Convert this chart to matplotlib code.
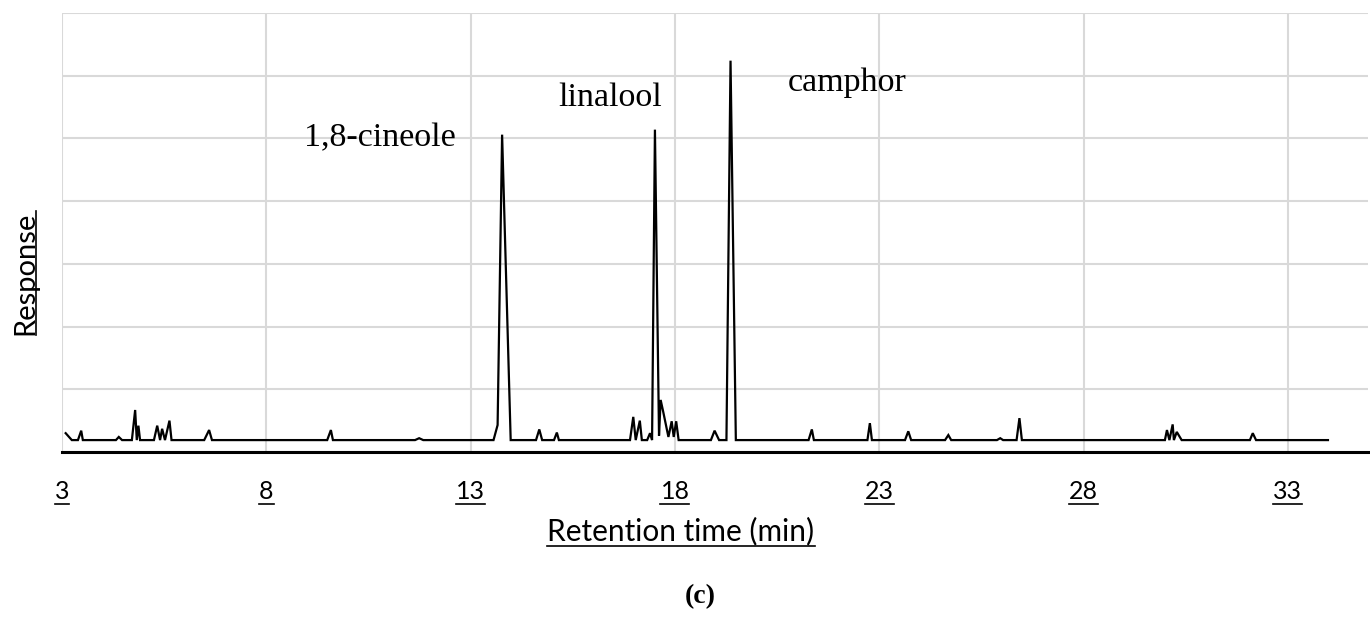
import matplotlib
matplotlib.use("Agg")
import matplotlib.pyplot as plt
from matplotlib.lines import Line2D
from matplotlib.transforms import blended_transform_factory

# retention time (min) and detector response (arbitrary units)
rt = [3.09, 3.24, 3.39, 3.47, 3.51, 4.32, 4.39, 4.47, 4.71, 4.79, 4.83, 4.87, 4.91,
      5.25, 5.33, 5.40, 5.45, 5.52, 5.63, 5.68, 6.48, 6.60, 6.67, 9.49, 9.58, 9.63,
      11.64, 11.74, 11.84, 13.56, 13.66, 13.77, 13.98, 14.60, 14.68, 14.75, 15.04,
      15.11, 15.16, 16.90, 16.98, 17.04, 17.14, 17.19, 17.32, 17.39, 17.44, 17.51,
      17.61, 17.65, 17.71, 17.84, 17.92, 17.97, 18.03, 18.09, 18.88, 18.97, 19.08,
      19.26, 19.36, 19.49, 21.27, 21.35, 21.40, 22.71, 22.77, 22.82, 23.63, 23.71,
      23.78, 24.61, 24.69, 24.76, 25.88, 25.96, 26.03, 26.36, 26.43, 26.49, 29.99,
      30.04, 30.10, 30.18, 30.21, 30.28, 30.40, 32.07, 32.14, 32.22, 33.98]
response = [0.30, 0.19, 0.19, 0.34, 0.19, 0.19, 0.24, 0.19, 0.19, 0.67, 0.19, 0.42, 0.19,
            0.19, 0.42, 0.19, 0.37, 0.19, 0.50, 0.19, 0.19, 0.35, 0.19, 0.19, 0.35, 0.19,
            0.19, 0.22, 0.19, 0.19, 0.43, 5.06, 0.19, 0.19, 0.36, 0.19, 0.19,
            0.31, 0.19, 0.19, 0.56, 0.19, 0.50, 0.19, 0.19, 0.30, 0.19, 5.14,
            0.26, 0.83, 0.65, 0.24, 0.49, 0.24, 0.49, 0.19, 0.19, 0.34, 0.19,
            0.19, 6.24, 0.19, 0.19, 0.36, 0.19, 0.19, 0.46, 0.19, 0.19, 0.33,
            0.19, 0.19, 0.27, 0.19, 0.19, 0.22, 0.19, 0.19, 0.54, 0.19, 0.19,
            0.35, 0.19, 0.44, 0.19, 0.32, 0.19, 0.19, 0.30, 0.19, 0.19]

xticks = [3, 8, 13, 18, 23, 28, 33]
compounds = ["1,8-cineole", "linalool", "camphor"]
label_pos = [(8.92, 4.87), (15.14, 5.52), (20.77, 5.75)]

sans = "Lato"
serif = "Liberation Serif"
W, H = 1370, 617

fig = plt.figure(figsize=(13.7, 6.17), dpi=100)
ax = fig.add_axes([62 / W, 165 / H, 1306 / W, 439 / H])

ax.plot(rt, response, color="black", lw=1.6, solid_joinstyle="miter")

ax.set_xlim(3, 34.96)
ax.set_ylim(0, 7)
ax.set_xticks(xticks)
ax.set_yticks(range(0, 8))
ax.grid(True, color="#d9d9d9", lw=1.5)
ax.set_axisbelow(True)
ax.tick_params(length=0, labelleft=False, labelbottom=False)
for s in ["top", "right", "left"]:
    ax.spines[s].set_visible(False)
ax.spines["bottom"].set_linewidth(2.2)

for name, (x, y) in zip(compounds, label_pos):
    ax.text(x, y, name, family=serif, fontsize=24.5, va="baseline", ha="left")

# underlined labels, as in the source figure (positions in pixels from the top)
fig.canvas.draw()
r = fig.canvas.get_renderer()
inv = fig.transFigure.inverted()


def hline_under(txt, ypix):
    bb = txt.get_window_extent(r)
    x0 = inv.transform((bb.x0, 0))[0]
    x1 = inv.transform((bb.x1, 0))[0]
    y = 1 - ypix / H
    fig.add_artist(Line2D([x0, x1], [y, y], color="black", lw=1.2,
                          transform=fig.transFigure))


tick_base = 499
tick_trans = blended_transform_factory(ax.transData, fig.transFigure)
for t in xticks:
    txt = ax.text(t, 1 - tick_base / H, str(t), family=sans, fontsize=18, ha="center",
                  va="baseline", transform=tick_trans)
    hline_under(txt, tick_base + 5)

xl = fig.text(681 / W, 1 - 540 / H, "Retention time (min)", family=sans, fontsize=21.5,
              ha="center", va="baseline")
hline_under(xl, 546)

yl = fig.text(33 / W, 1 - 273 / H, "Response", family=sans, fontsize=21,
              ha="center", va="baseline", rotation=90, rotation_mode="anchor")
bb = yl.get_window_extent(r)
y0 = inv.transform((0, bb.y0))[1]
y1 = inv.transform((0, bb.y1))[1]
fig.add_artist(Line2D([36 / W, 36 / W], [y0, y1], color="black", lw=1.2,
                      transform=fig.transFigure))

fig.text(700 / W, 1 - 597 / H, "(c)", family=serif, fontsize=20, weight="bold",
         ha="center", va="center")

fig.savefig("out.png", dpi=100)
